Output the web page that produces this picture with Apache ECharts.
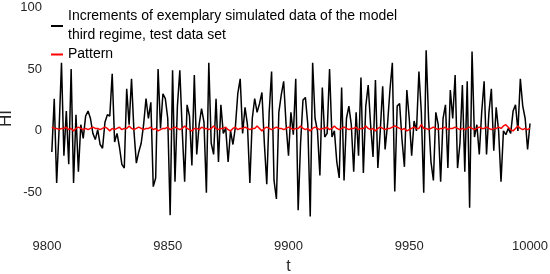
<!DOCTYPE html>
<html><head><meta charset="utf-8">
<script src="https://cdn.jsdelivr.net/npm/echarts@6/dist/echarts.min.js"></script>
<style>html,body{margin:0;padding:0;background:#fff}#c{width:550px;height:274px}</style>
</head><body><div id="c"></div>
<script>
const seriesNames = ['Increments of exemplary simulated data of the model\nthird regime, test data set', 'Pattern'];
const tStart = 9802;
const increments = [
 -17,26,-42,1,55,-20,16,-27,50,-42,13,-33,5,-6,12,16,10,-2,-7,1,
 -11,-14,7,13,12,46,-9,-2,-13,-27,-30,34,5,42,0,-26,-17,-10,5,26,
 10,23,-45,-38,50,2,30,26,10,-68,49,-41,20,49,0,-41,21,12,-28,45,
 -19,5,18,7,-50,55,-10,-19,26,-25,21,-2,2,-25,0,-11,3,30,42,-2,
 19,5,-42,10,26,15,22,31,-10,-43,15,48,-40,-55,15,29,40,5,-20,15,
 -3,42,-64,-10,25,27,5,-69,55,10,0,-36,35,-5,-2,50,-5,0,-25,-38,
 35,-40,10,20,5,-33,15,-20,43,-34,20,37,5,-21,41,-30,0,36,-15,5,
 33,55,-49,20,22,-7,-29,33,10,-20,8,0,48,15,-50,65,10,-25,-40,15,
 5,-41,10,21,-30,33,10,45,-30,-10,37,-33,40,-62,64,-5,5,-19,15,40,
 -19,15,34,-16,19,0,-41,0,-3,2,-2,16,21,0,42,20,10,-15,6
];
const pattern = [
 3,2,2,1,2,2,3,1,2,0,2,3,2,1,2,1,2,3,2,2,
 1,2,3,2,0,2,1,2,3,1,2,2,4,2,1,2,3,2,1,2,
 2,3,1,2,0,1,2,2,3,1,2,3,2,1,2,4,2,1,0,2,
 2,1,3,2,2,1,2,4,2,1,2,2,3,1,0,2,3,1,2,2,
 3,2,1,2,2,4,2,0,2,3,2,1,2,3,2,2,1,2,3,2,
 1,2,2,4,2,1,2,0,2,3,2,1,2,2,3,1,2,4,2,1,
 2,3,2,1,2,2,3,1,2,2,4,2,1,2,0,2,3,2,1,2,
 2,3,4,3,2,1,2,0,1,2,3,2,2,5,2,2,1,2,3,2,
 1,2,2,3,1,2,2,3,2,1,2,1,2,3,2,1,2,3,2,2,
 3,2,1,2,2,3,2,4,5,3,1,0,2,4,2,1,2,1,2
];
const yTicks = [-50, 0, 50, 100];
const xTicks = [9800, 9850, 9900, 9950, 10000];

const toPairs = arr => arr.map((v, i) => [tStart + i, v]);
const font = '"Liberation Sans", Arial, sans-serif';
const chart = echarts.init(document.getElementById('c'), null, {renderer: 'canvas'});
chart.setOption({
  animation: false,
  backgroundColor: '#fff',
  grid: {left: 47, right: 20, top: 7, bottom: 44, containLabel: false, outerBoundsMode: 'none'},
  xAxis: {
    type: 'value', min: 9800, max: 10000,
    name: 't', nameLocation: 'middle', nameGap: 29, nameMoveOverlap: false,
    nameTextStyle: {fontFamily: font, fontSize: 16, color: '#262626'},
    axisLine: {show: false}, axisTick: {show: false}, splitLine: {show: false},
    axisLabel: {customValues: xTicks, formatter: v => String(v), fontFamily: font, fontSize: 13, color: '#262626', margin: 10}
  },
  yAxis: {
    type: 'value', min: -80, max: 100,
    name: 'HI', nameLocation: 'middle', nameGap: 32, nameRotate: 90, nameMoveOverlap: false,
    nameTextStyle: {fontFamily: font, fontSize: 17, color: '#262626'},
    axisLine: {show: false}, axisTick: {show: false}, splitLine: {show: false},
    axisLabel: {customValues: yTicks, formatter: v => String(v), fontFamily: font, fontSize: 13, color: '#262626', margin: 5}
  },
  legend: {
    left: 51, top: 7, orient: 'vertical', itemGap: 0, itemWidth: 12, itemHeight: 2,
    padding: 0,
    textStyle: {fontFamily: font, fontSize: 14, color: '#000', lineHeight: 19},
    data: [
      {name: seriesNames[0], icon: 'rect', itemStyle: {color: '#000'}},
      {name: seriesNames[1], icon: 'rect', itemStyle: {color: '#ff0000'}}
    ]
  },
  series: [
    {name: seriesNames[0], type: 'line', data: toPairs(increments), showSymbol: false, symbol: 'none',
     lineStyle: {color: '#000', width: 1.5}, itemStyle: {color: '#000'}},
    {name: seriesNames[1], type: 'line', data: toPairs(pattern), showSymbol: false, symbol: 'none',
     lineStyle: {color: '#ff0000', width: 1.5}, itemStyle: {color: '#ff0000'}}
  ]
});
</script></body></html>
